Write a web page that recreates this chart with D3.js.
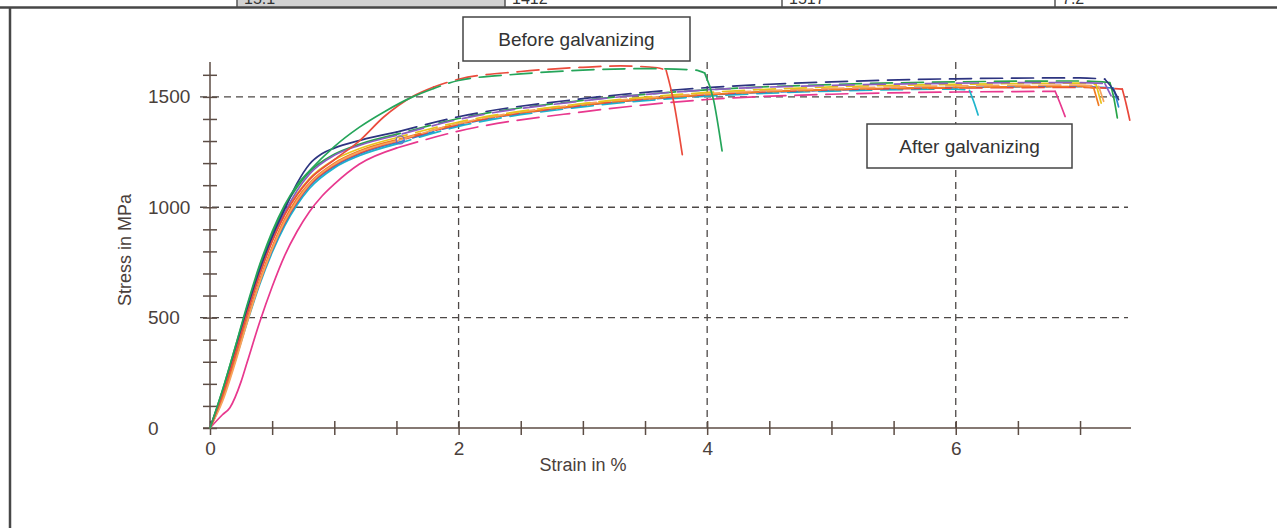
<!DOCTYPE html>
<html>
<head>
<meta charset="utf-8">
<script src="https://cdn.jsdelivr.net/npm/d3@7"></script>
<style>
  body { margin: 0; background: #fff; }
  svg { display: block; font-family: "Liberation Sans", Arial, sans-serif; }
  .tick text { fill: #4a403b; }
</style>
</head>
<body>
<svg id="chart" width="1277" height="528"></svg>
<script>
// ---------------------------------------------------------------
// data read off the picture : [strain %, stress MPa]

const tableCells = ['15.1', '1412', '1517', '7.2'];

const xMajorTicks = [0, 2, 4, 6];
const xMinorTicks = [0, 0.5, 1, 1.5, 2, 2.5, 3, 3.5, 4, 4.5, 5, 5.5, 6, 6.5, 7];
const yMajorTicks = [0, 500, 1000, 1500];
const yMinorTicks = [0, 100, 200, 300, 400, 500, 600, 700, 800, 900, 1000, 1100, 1200, 1300, 1400, 1500, 1600];

// before galvanizing
const beforeGreen = [[0,0],[0.1,170],[0.2,360],[0.3,560],[0.4,740],[0.5,890],[0.6,1010],[0.7,1100],[0.8,1165],[1.0,1275],[1.2,1362],[1.4,1432],[1.63,1500],[1.8,1538],[2.0,1574],[2.5,1604],[3.0,1621],[3.5,1628],[3.9,1622],[3.98,1608],[4.05,1490],[4.12,1255]];
const beforeRed   = [[0,0],[0.1,150],[0.2,330],[0.3,520],[0.4,695],[0.5,845],[0.6,965],[0.7,1055],[0.8,1125],[1.0,1215],[1.2,1300],[1.4,1410],[1.63,1502],[1.8,1545],[2.0,1580],[2.5,1615],[3.0,1634],[3.3,1640],[3.6,1632],[3.67,1620],[3.73,1480],[3.8,1238]];

// after galvanizing
const afterNavy    = [[0,0],[0.1,160],[0.2,345],[0.3,535],[0.4,715],[0.5,865],[0.6,990],[0.7,1108],[0.8,1195],[0.9,1242],[1.0,1268],[1.2,1302],[1.5,1340],[2,1410],[3,1492],[4,1542],[5,1568],[6,1582],[7,1586],[7.2,1580],[7.27,1530],[7.31,1488]];
const afterPurple  = [[0,0],[0.1,155],[0.2,335],[0.3,525],[0.4,700],[0.5,850],[0.6,975],[0.7,1075],[0.8,1150],[1.0,1235],[1.2,1280],[1.5,1325],[2,1398],[3,1482],[4,1532],[5,1552],[6,1562],[7,1565],[7.2,1560],[7.25,1505]];
const afterGreen   = [[0,0],[0.1,170],[0.2,360],[0.3,550],[0.4,730],[0.5,880],[0.6,1000],[0.7,1090],[0.8,1160],[1.0,1240],[1.2,1285],[1.5,1330],[2,1402],[3,1484],[4,1532],[5,1556],[6,1568],[7,1572],[7.24,1565],[7.27,1500],[7.3,1405]];
const afterYellow  = [[0,0],[0.1,150],[0.2,330],[0.3,520],[0.4,700],[0.5,850],[0.6,970],[0.7,1060],[0.8,1130],[1.0,1215],[1.2,1265],[1.5,1315],[2,1386],[3,1470],[4,1520],[5,1545],[6,1557],[7,1562],[7.13,1555],[7.17,1472]];
const afterPeach   = [[0,0],[0.1,120],[0.2,290],[0.3,480],[0.4,660],[0.5,810],[0.6,935],[0.7,1030],[0.8,1105],[1.0,1195],[1.2,1250],[1.5,1300],[2,1380],[3,1468],[4,1515],[5,1538],[6,1550],[7,1553],[7.15,1548],[7.19,1480]];
const afterOrange  = [[0,0],[0.1,130],[0.2,300],[0.3,490],[0.4,670],[0.5,820],[0.6,945],[0.7,1040],[0.8,1110],[1.0,1200],[1.2,1255],[1.5,1305],[2,1378],[3,1463],[4,1510],[5,1533],[6,1543],[7,1547],[7.11,1540],[7.15,1462]];
const afterBlue    = [[0,0],[0.1,140],[0.2,310],[0.3,490],[0.4,660],[0.5,805],[0.6,925],[0.7,1020],[0.8,1095],[1.0,1185],[1.2,1240],[1.5,1292],[2,1372],[3,1460],[4,1508],[5,1530],[6,1542],[7,1546],[7.27,1540],[7.31,1455]];
const afterRed     = [[0,0],[0.1,135],[0.2,305],[0.3,490],[0.4,660],[0.5,810],[0.6,930],[0.7,1025],[0.8,1100],[1.0,1190],[1.2,1245],[1.5,1298],[2,1375],[3,1462],[4,1510],[5,1532],[6,1540],[7,1543],[7.34,1535],[7.37,1470],[7.4,1395]];
const afterCyan    = [[0,0],[0.1,130],[0.2,300],[0.3,480],[0.4,650],[0.5,795],[0.6,915],[0.7,1010],[0.8,1085],[1.0,1178],[1.2,1233],[1.5,1286],[2,1366],[3,1455],[4,1503],[5,1526],[6,1535],[6.11,1530],[6.15,1470],[6.18,1418]];
const afterMagenta = [[0,0],[0.1,60],[0.16,92],[0.25,210],[0.3,300],[0.4,480],[0.5,640],[0.6,780],[0.7,890],[0.8,980],[0.9,1050],[1.0,1105],[1.2,1195],[1.5,1268],[2,1345],[3,1432],[4,1488],[5,1512],[6,1522],[6.8,1525],[6.84,1470],[6.88,1411]];

const markerPts = [[1.53, 1305]];

// ---------------------------------------------------------------
// which strain the extensometer line turns dashed at, and where the tail goes solid again

const series = [
  { pts: afterMagenta, colour: '#e8388e', dashFrom: 1.5, dashTo: 6.8 },
  { pts: afterCyan,    colour: '#1fb5cc', dashFrom: 1.5, dashTo: 6.11 },
  { pts: afterBlue,    colour: '#2b86d0', dashFrom: 1.5, dashTo: 7.27 },
  { pts: afterRed,     colour: '#e9473a', dashFrom: 1.5, dashTo: 7.34 },
  { pts: afterOrange,  colour: '#f07a22', dashFrom: 1.5, dashTo: 7.11 },
  { pts: afterPeach,   colour: '#f7a35e', dashFrom: 1.5, dashTo: 7.15 },
  { pts: afterYellow,  colour: '#e6c31c', dashFrom: 1.5, dashTo: 7.13 },
  { pts: afterGreen,   colour: '#27a548', dashFrom: 1.5, dashTo: 7.24 },
  { pts: afterPurple,  colour: '#8b5cc0', dashFrom: 1.5, dashTo: 7.2 },
  { pts: afterNavy,    colour: '#2d3480', dashFrom: 1.5, dashTo: 7.2 },
  { pts: beforeRed,    colour: '#ea4b3c', dashFrom: 1.8, dashTo: 3.67 },
  { pts: beforeGreen,  colour: '#25a55a', dashFrom: 1.8, dashTo: 3.98 }
];

//-------------------------------------------------------------------------------

const svg = d3.select('#chart');
const axisColour = '#5c4d45';
const gridColour = '#4d4846';

const x = d3.scaleLinear().domain([0, 7.41]).range([210, 1131]);
const y = d3.scaleLinear().domain([0, 1658]).range([428, 62]);

// top table strip (cut off by the crop)
const cellEdges = [237, 505, 782, 1055];
svg.append('rect').attr('x', 237).attr('y', -2).attr('width', 268).attr('height', 9).attr('fill', '#d2d2d2');
cellEdges.forEach(cx => svg.append('line')
    .attr('x1', cx).attr('x2', cx).attr('y1', -2).attr('y2', 7)
    .attr('stroke', '#555').attr('stroke-width', 1.5));
tableCells.forEach((t, i) => svg.append('text')
    .attr('x', cellEdges[i] + 7).attr('y', 4)
    .attr('font-size', 16).attr('fill', '#333').text(t));
svg.append('line').attr('x1', 0).attr('x2', 1277).attr('y1', 7.5).attr('y2', 7.5)
    .attr('stroke', '#474747').attr('stroke-width', 2.5);
svg.append('line').attr('x1', 10).attr('x2', 10).attr('y1', 7).attr('y2', 528)
    .attr('stroke', '#474747').attr('stroke-width', 2.5);

// grid
const grid = svg.append('g').attr('stroke', gridColour).attr('stroke-width', 1.3).attr('stroke-dasharray', '7,5');
grid.selectAll('line.h').data(yMajorTicks.filter(v => v > 0)).join('line')
    .attr('x1', 200).attr('x2', 1128).attr('y1', d => y(d)).attr('y2', d => y(d));
grid.selectAll('line.v').data(xMajorTicks.filter(v => v > 0)).join('line')
    .attr('class', 'v')
    .attr('y1', 62).attr('y2', 428).attr('x1', d => x(d)).attr('x2', d => x(d));

// axes
const xAxis = svg.append('g').attr('transform', `translate(0,${y(0)})`)
    .call(d3.axisBottom(x).tickValues(xMinorTicks).tickSize(7)
        .tickFormat(d => xMajorTicks.includes(d) ? d3.format('d')(d) : ''));
xAxis.select('.domain').attr('d', `M203,0H1131`);
const yAxis = svg.append('g').attr('transform', `translate(${x(0)},0)`)
    .call(d3.axisLeft(y).tickValues(yMinorTicks).tickSize(7)
        .tickFormat(d => yMajorTicks.includes(d) ? d3.format('d')(d) : ''));
yAxis.select('.domain').attr('d', `M0,62V${y(0)}`);

[xAxis, yAxis].forEach(g => {
  g.select('.domain').attr('stroke', axisColour).attr('stroke-width', 1.5);
  g.selectAll('.tick line').attr('stroke', axisColour).attr('stroke-width', 1.5);
  g.selectAll('.tick text').attr('font-size', 19).attr('font-family', '"Liberation Sans", Arial, sans-serif');
});
xAxis.selectAll('.tick line').attr('y1', -7).attr('y2', 7);
xAxis.selectAll('.tick text').attr('y', 14);
yAxis.selectAll('.tick line').attr('x1', -7).attr('x2', 7);
yAxis.selectAll('.tick text').attr('text-anchor', 'start').attr('x', -62);

// axis titles
svg.append('text').attr('x', 583).attr('y', 471).attr('text-anchor', 'middle')
    .attr('font-size', 18).attr('fill', '#4a403b').text('Strain in %');
svg.append('text').attr('transform', 'translate(131,250) rotate(-90)').attr('text-anchor', 'middle')
    .attr('font-size', 18).attr('fill', '#4a403b').text('Stress in MPa');

// curves
const line = d3.line().x(d => x(d[0])).y(d => y(d[1])).curve(d3.curveMonotoneX);
const curves = svg.append('g').attr('fill', 'none').attr('stroke-width', 1.7).attr('stroke-linecap', 'round');

series.forEach((s, i) => {
  const solid = s.pts.filter(p => p[0] <= s.dashFrom);
  const dashed = s.pts.filter(p => p[0] >= s.dashFrom && p[0] <= s.dashTo);
  const tail = s.pts.filter(p => p[0] >= s.dashTo);
  curves.append('path').attr('d', line(solid)).attr('stroke', s.colour);
  curves.append('path').attr('d', line(dashed)).attr('stroke', s.colour)
      .attr('stroke-dasharray', '22,9').attr('stroke-dashoffset', i * 7);
  curves.append('path').attr('d', line(tail)).attr('stroke', s.colour);
});

svg.selectAll('circle.marker').data(markerPts).join('circle')
    .attr('cx', d => x(d[0])).attr('cy', d => y(d[1])).attr('r', 4)
    .attr('fill', 'none').attr('stroke', '#6f63c8').attr('stroke-width', 1.2);

// label boxes
function LabelBox(x0, y0, w, h, txt) {
  svg.append('rect').attr('x', x0).attr('y', y0).attr('width', w).attr('height', h)
      .attr('fill', '#fff').attr('stroke', '#444').attr('stroke-width', 1.5);
  svg.append('text').attr('x', x0 + w / 2).attr('y', y0 + h / 2 + 7).attr('text-anchor', 'middle')
      .attr('font-size', 19).attr('fill', '#333').text(txt);
}
LabelBox(463, 17, 227, 44, 'Before galvanizing');
LabelBox(867, 124, 205, 44, 'After galvanizing');
</script>
</body>
</html>
